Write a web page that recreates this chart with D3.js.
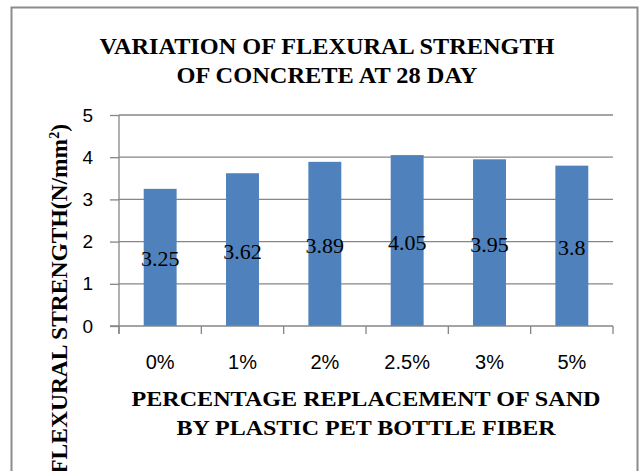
<!DOCTYPE html>
<html>
<head>
<meta charset="utf-8">
<script src="https://cdn.jsdelivr.net/npm/d3@7"></script>
<style>
  html, body { margin: 0; padding: 0; background: #fff; }
  svg { display: block; }
</style>
</head>
<body>
<svg id="chart" width="642" height="471"></svg>
<script>
// Flexural strength at 28 days by PET fibre replacement level
const categories = ["0%", "1%", "2%", "2.5%", "3%", "5%"];
const strength = [3.25, 3.62, 3.89, 4.05, 3.95, 3.8];
const yTicks = [0, 1, 2, 3, 4, 5];
const titleLines = ["VARIATION OF FLEXURAL STRENGTH", "OF CONCRETE AT 28 DAY"];
const xTitleLines = ["PERCENTAGE REPLACEMENT OF SAND", "BY PLASTIC PET BOTTLE FIBER"];

const svg = d3.select("#chart");
const plot = { left: 119, right: 613, top: 115, bottom: 326 };
const gridColor = "#868686";
const serif = "'Liberation Serif', 'Times New Roman', serif";
const sans = "'Liberation Sans', Arial, sans-serif";

// outer frame
svg.append("rect")
  .attr("x", 11.5).attr("y", 7.5)
  .attr("width", 626).attr("height", 480)
  .attr("fill", "#fff").attr("stroke", "#8c8c8c").attr("stroke-width", 2);

const x = d3.scaleBand().domain(categories).range([plot.left, plot.right]).paddingInner(0.6).paddingOuter(0.3);
const xb = d3.scaleBand().domain(categories).range([plot.left, plot.right]);
const y = d3.scaleLinear().domain([0, 5]).range([plot.bottom, plot.top]);

// horizontal gridlines
svg.append("g").selectAll("line").data(yTicks.filter(t => t > 0)).join("line")
  .attr("x1", plot.left).attr("x2", plot.right)
  .attr("y1", d => y(d)).attr("y2", d => y(d))
  .attr("stroke", gridColor).attr("stroke-width", 1.3);

// bars
svg.append("g").selectAll("rect").data(strength).join("rect")
  .attr("x", (d, i) => x(categories[i]))
  .attr("width", x.bandwidth())
  .attr("y", d => y(d))
  .attr("height", d => y(0) - y(d))
  .attr("fill", "#4f81bd");

// y axis
const yAxis = d3.axisLeft(y).tickValues(yTicks).tickSize(9).tickPadding(17).tickFormat(d3.format("d"));
const gy = svg.append("g").attr("transform", `translate(${plot.left},0)`).call(yAxis);
gy.select(".domain").attr("stroke", gridColor).attr("stroke-width", 1.3).attr("d", `M0,${plot.top}V${plot.bottom + 8}`);
gy.selectAll(".tick line").attr("stroke", gridColor).attr("stroke-width", 1.3);
gy.selectAll(".tick text").attr("font-family", sans).attr("font-size", 19).attr("fill", "#000");

// x axis with boundary ticks
const gx = svg.append("g");
gx.append("line").attr("x1", plot.left - 9).attr("x2", plot.right)
  .attr("y1", plot.bottom).attr("y2", plot.bottom)
  .attr("stroke", gridColor).attr("stroke-width", 1.3);
gx.selectAll("line.b").data(categories.concat(["end"])).join("line").attr("class", "b")
  .attr("x1", (d, i) => i < categories.length ? xb(d) : plot.right)
  .attr("x2", (d, i) => i < categories.length ? xb(d) : plot.right)
  .attr("y1", plot.bottom).attr("y2", plot.bottom + 8)
  .attr("stroke", gridColor).attr("stroke-width", 1.3);
gx.selectAll("text").data(categories).join("text")
  .attr("x", d => xb(d) + xb.bandwidth() / 2)
  .attr("y", 369)
  .attr("text-anchor", "middle")
  .attr("font-family", sans).attr("font-size", 20)
  .text(d => d);

// value labels inside bars
svg.append("g").selectAll("text").data(strength).join("text")
  .attr("x", (d, i) => x(categories[i]) + x.bandwidth() / 2)
  .attr("y", d => y(d / 2) + 9)
  .attr("text-anchor", "middle")
  .attr("font-family", serif).attr("font-size", 22)
  .attr("fill", "#000")
  .text(d => d);

// chart title
const titleWidths = [455, 301];
svg.append("g").selectAll("text").data(titleLines).join("text")
  .attr("x", 327).attr("y", (d, i) => 54 + i * 29)
  .attr("text-anchor", "middle")
  .attr("textLength", (d, i) => titleWidths[i]).attr("lengthAdjust", "spacingAndGlyphs")
  .attr("font-family", serif).attr("font-weight", "bold").attr("font-size", 23)
  .text(d => d);

// x axis title
const xTitleWidths = [469, 379];
svg.append("g").selectAll("text").data(xTitleLines).join("text")
  .attr("x", 366).attr("y", (d, i) => 406 + i * 29)
  .attr("text-anchor", "middle")
  .attr("textLength", (d, i) => xTitleWidths[i]).attr("lengthAdjust", "spacingAndGlyphs")
  .attr("font-family", serif).attr("font-weight", "bold").attr("font-size", 22)
  .text(d => d);

// y axis title (rotated)
const yt = svg.append("text")
  .attr("transform", "translate(67,124) rotate(-90)")
  .attr("text-anchor", "end")
  .attr("font-family", serif).attr("font-weight", "bold").attr("font-size", 23.5);
yt.append("tspan").text("FLEXURAL STRENGTH(N/mm");
yt.append("tspan").attr("dy", -8).attr("font-size", 14).text("2");
yt.append("tspan").attr("dy", 8).text(")");
</script>
</body>
</html>
